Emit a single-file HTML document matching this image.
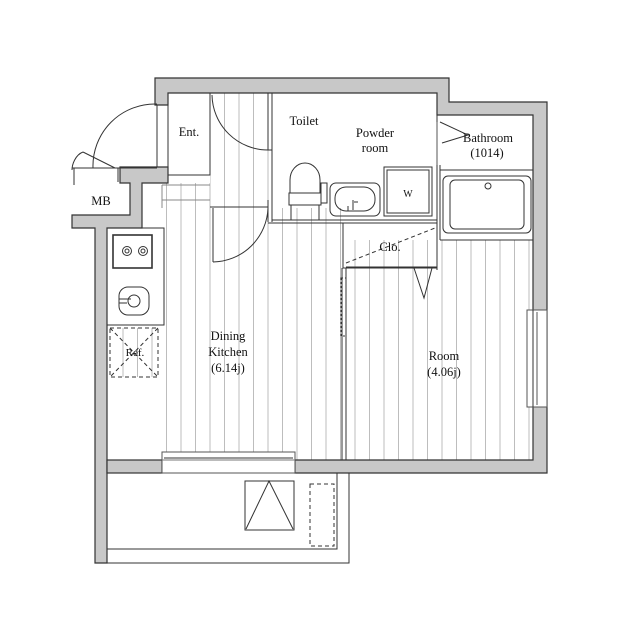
<!DOCTYPE html>
<html><head><meta charset="utf-8"><style>
html,body{margin:0;padding:0;background:#fff}
svg{display:block}
text{font-family:"Liberation Serif",serif;font-size:12.5px;fill:#111;text-anchor:middle}
</style></head><body>
<svg width="619" height="640" viewBox="0 0 619 640" xmlns="http://www.w3.org/2000/svg">
<defs>
<pattern id="hatch" width="14.5" height="10" patternUnits="userSpaceOnUse">
<line x1="7" y1="0" x2="7" y2="10" stroke="#bdbdbd" stroke-width="1"/>
</pattern>
</defs>
<rect x="210" y="93" width="62" height="127" fill="url(#hatch)"/>
<rect x="164" y="208" width="178" height="252" fill="url(#hatch)"/>
<rect x="346" y="240" width="187" height="220" fill="url(#hatch)"/>
<rect x="110" y="328" width="48" height="49" fill="url(#hatch)"/>
<rect x="164" y="183" width="46" height="25" fill="url(#hatch)"/>

<g fill="#c8c8c8" stroke="#333" stroke-width="1.2">
<path d="M155,78 H449 V102 H547 V473 H295 V460 H533 V115 H437 V93 H168 V105 H155 Z"/>
<path d="M120,167 H168 V183 H142 V228 H107 V563 H95 V228 H72 V215 H130 V183 H120 Z"/>
<rect x="107" y="460" width="55" height="13"/>
</g>
<rect x="527" y="310" width="20" height="97" fill="#fff" stroke="#555" stroke-width="1"/>
<line x1="533" y1="310" x2="533" y2="407" stroke="#333"/>
<line x1="537" y1="312" x2="537" y2="405" stroke="#555"/>
<rect x="162" y="452" width="133" height="21" fill="#fff" stroke="#555" stroke-width="1"/>
<line x1="164" y1="458" x2="293" y2="458" stroke="#333"/>
<line x1="162" y1="460" x2="295" y2="460" stroke="#777"/>

<g fill="none" stroke="#333" stroke-width="1">
<rect x="168" y="93" width="42" height="82"/>
<line x1="162" y1="185" x2="210" y2="185" stroke="#888"/>
<line x1="162" y1="200" x2="210" y2="200" stroke="#888"/>
<line x1="162" y1="185" x2="162" y2="208" stroke="#888"/>
<path d="M157,105 V167 M157,168 H93 M93,168 A62,62 0 0 1 157,104"/>
<path d="M83,152 L115,168 M83,152 C75,155 72,165 72,170 M72,168 H120 M74,168 V185 M118,168 V182"/>
<line x1="210" y1="93" x2="210" y2="175"/>
<line x1="268" y1="93" x2="268" y2="150"/>
<line x1="272" y1="93" x2="272" y2="222"/>
<line x1="268" y1="150" x2="272" y2="150"/>
<path d="M212,95 A56,56 0 0 0 268,150"/>
<line x1="210" y1="207" x2="268" y2="207"/>
<line x1="213" y1="208" x2="213" y2="262"/>
<path d="M213,262 A56,56 0 0 0 268,208"/>
<line x1="268" y1="200" x2="268" y2="222"/>
<line x1="272" y1="220" x2="437" y2="220"/>
<line x1="268" y1="223" x2="437" y2="223"/>
<line x1="437" y1="93" x2="437" y2="122"/>
<line x1="440" y1="165" x2="440" y2="240"/>
<line x1="437" y1="165" x2="437" y2="270"/>
<line x1="437" y1="122" x2="437" y2="165" stroke="#555"/>
<path d="M440,122 L468,135 L442,143"/>
<path d="M290,193 V180 A15,17 0 0 1 320,180 V193"/>
<rect x="289" y="193" width="32" height="12"/>
<path d="M291,205 V220 M319,205 V220"/>
<rect x="321" y="183" width="6" height="20"/>
<rect x="330" y="183" width="50" height="33" rx="6"/>
<rect x="335" y="187" width="40" height="24" rx="11"/>
<path d="M348,206 v5 M353,200 v10 M354,202 h4"/>
<rect x="384" y="167" width="48" height="49"/>
<rect x="387" y="170" width="42" height="43"/>
<line x1="440" y1="170" x2="533" y2="170"/>
<line x1="440" y1="240" x2="533" y2="240"/>
<rect x="443" y="176" width="88" height="57" rx="5"/>
<rect x="450" y="180" width="74" height="49" rx="5"/>
<circle cx="488" cy="186" r="3"/>
<rect x="343" y="223" width="94" height="45"/>
<line x1="346" y1="267" x2="437" y2="267"/>
<path d="M346,263 L435,228" stroke-dasharray="4,3"/>
<path d="M414,268 L424,298 L432,268"/>
<line x1="342" y1="268" x2="342" y2="460"/>
<line x1="346" y1="268" x2="346" y2="460"/>
<rect x="341" y="278" width="5" height="58" stroke-dasharray="2,2"/>
<rect x="107" y="228" width="57" height="97"/>
<rect x="113" y="235" width="39" height="33" stroke-width="1.6"/>
<circle cx="127" cy="251" r="4.5"/><circle cx="127" cy="251" r="2"/>
<circle cx="143" cy="251" r="4.5"/><circle cx="143" cy="251" r="2"/>
<rect x="119" y="287" width="30" height="28" rx="9"/>
<circle cx="134" cy="301" r="6"/>
<path d="M119,299 h12 M119,303 h8"/>
<rect x="110" y="328" width="48" height="49" stroke-dasharray="4,3"/>
<path d="M110,328 L158,377 M158,328 L110,377" stroke-dasharray="4,3"/>
<path d="M107,473 V549 H337 V473"/>
<path d="M107,563 H349 V473 H337"/>
<rect x="245" y="481" width="49" height="49"/>
<path d="M246,529 L269,481 L293,529"/>
<rect x="310" y="484" width="24" height="62" stroke-dasharray="4,3"/>
</g>

<text x="189" y="136">Ent.</text>
<text x="304" y="125">Toilet</text>
<text x="375" y="137">Powder</text>
<text x="375" y="152">room</text>
<text x="488" y="142">Bathroom</text>
<text x="487" y="157">(1014)</text>
<text x="408" y="197" style="font-size:10px">W</text>
<text x="390" y="251">Clo.</text>
<text x="101" y="205">MB</text>
<text x="135" y="356" style="font-size:11px">Ref.</text>
<text x="228" y="340">Dining</text>
<text x="228" y="356">Kitchen</text>
<text x="228" y="372">(6.14j)</text>
<text x="444" y="360">Room</text>
<text x="444" y="376">(4.06j)</text>
</svg>
</body></html>
